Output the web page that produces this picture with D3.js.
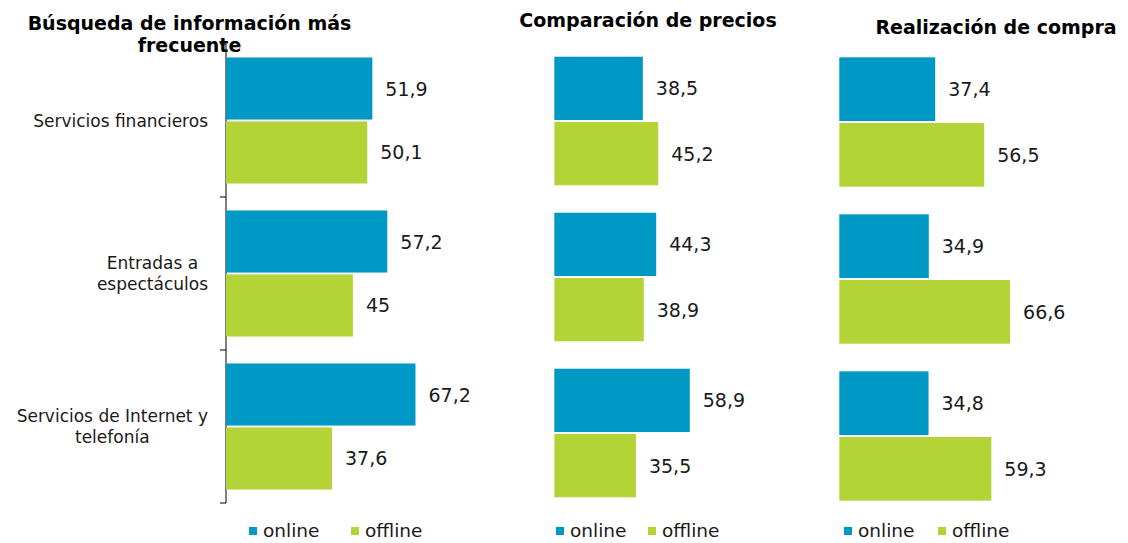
<!DOCTYPE html>
<html>
<head>
<meta charset="utf-8">
<script src="https://cdn.jsdelivr.net/npm/d3@7"></script>
<style>
  body { margin: 0; background: #fff; }
  svg { display: block; font-family: "DejaVu Sans", Verdana, sans-serif; }
</style>
</head>
<body>
<svg id="chart" width="1128" height="543"></svg>
<script>
// Data
const categories = ["Servicios financieros", "Entradas a espectáculos", "Servicios de Internet y telefonía"];
const categoryLines = [["Servicios financieros"], ["Entradas a", "espectáculos"], ["Servicios de Internet y", "telefonía"]];
const series = ["online", "offline"];
const panelTitles = [["Búsqueda de información más", "frecuente"], ["Comparación de precios"], ["Realización de compra"]];

const busquedaOnline = [51.9, 57.2, 67.2];
const busquedaOffline = [50.1, 45, 37.6];
const comparacionOnline = [38.5, 44.3, 58.9];
const comparacionOffline = [45.2, 38.9, 35.5];
const compraOnline = [37.4, 34.9, 34.8];
const compraOffline = [56.5, 66.6, 59.3];

const colors = { online: "#0098c5", offline: "#b4d337" };

// layout of each small panel (pixels only, no values)
const panels = [
  { online: busquedaOnline, offline: busquedaOffline, x: [226, 451.6], max: 80, y: [44, 503],
    titleX: 189.5, titleY: [30, 52], legendX: 249, legendGap: 102, axis: true },
  { online: comparacionOnline, offline: comparacionOffline, x: [554.3, 715.3], max: 70, y: [43, 511],
    titleX: 648, titleY: [27], legendX: 556, legendGap: 92, axis: false },
  { online: compraOnline, offline: compraOffline, x: [839.3, 1018.8], max: 70, y: [43.5, 514.5],
    titleX: 996, titleY: [34], legendX: 844, legendGap: 94, axis: false }
];

const svg = d3.select("#chart");
const fmt = v => String(v).replace(".", ",");

panels.forEach((p, pi) => {
  const g = svg.append("g");

  const x = d3.scaleLinear().domain([0, p.max]).range(p.x);
  const y = d3.scaleBand()
    .domain(categories)
    .range(p.y)
    .paddingInner(0.176)
    .paddingOuter(0.088);
  const ySub = d3.scaleBand()
    .domain(series)
    .range([0, y.bandwidth()])
    .paddingInner(0.03);

  const rows = [];
  categories.forEach((c, i) => {
    series.forEach(s => rows.push({ cat: c, series: s, value: p[s][i] }));
  });

  // axis (only first panel shows it)
  if (p.axis) {
    const ticks = [p.y[0]].concat(categories.map(c => y(c) + y.bandwidth() + y.step() * 0.088));
    g.append("line")
      .attr("x1", p.x[0]).attr("x2", p.x[0])
      .attr("y1", p.y[0]).attr("y2", p.y[1])
      .attr("stroke", "#000").attr("stroke-width", 1);
    g.selectAll(".tick")
      .data(ticks)
      .join("line")
      .attr("class", "tick")
      .attr("x1", p.x[0] - 6).attr("x2", p.x[0])
      .attr("y1", d => d).attr("y2", d => d)
      .attr("stroke", "#000");

    // category labels: widest line right-aligned at axis, lines centred on it
    categoryLines.forEach((lines, i) => {
      const lh = 21;
      const cy = y(categories[i]) + y.bandwidth() / 2;
      const t = g.append("text")
        .attr("font-size", 17)
        .attr("fill", "#1a1a1a")
        .attr("text-anchor", "middle");
      lines.forEach((l, j) => {
        t.append("tspan")
          .attr("y", cy + 6 + (j - (lines.length - 1) / 2) * lh)
          .text(l);
      });
      const maxW = d3.max(t.selectAll("tspan").nodes(), n => n.getComputedTextLength());
      t.selectAll("tspan").attr("x", p.x[0] - 18 - maxW / 2);
    });
  }

  // bars
  g.selectAll("rect.bar")
    .data(rows)
    .join("rect")
    .attr("class", "bar")
    .attr("x", x(0))
    .attr("y", d => y(d.cat) + ySub(d.series))
    .attr("width", d => x(d.value) - x(0))
    .attr("height", ySub.bandwidth())
    .attr("fill", d => colors[d.series]);

  // value labels
  g.selectAll("text.val")
    .data(rows)
    .join("text")
    .attr("class", "val")
    .attr("x", d => x(d.value) + 13)
    .attr("y", d => y(d.cat) + ySub(d.series) + ySub.bandwidth() / 2 + 7)
    .attr("font-size", 19)
    .attr("fill", "#1a1a1a")
    .text(d => fmt(d.value));

  // title
  const title = svg.append("text")
    .attr("font-size", 19)
    .attr("font-weight", "bold")
    .attr("fill", "#000")
    .attr("text-anchor", "middle");
  panelTitles[pi].forEach((t, j) => {
    title.append("tspan").attr("x", p.titleX).attr("y", p.titleY[j]).text(t);
  });

  // legend
  const leg = g.selectAll("g.leg")
    .data(series)
    .join("g")
    .attr("class", "leg")
    .attr("transform", (d, i) => `translate(${p.legendX + i * p.legendGap},527)`);
  leg.append("rect")
    .attr("width", 8).attr("height", 8)
    .attr("fill", d => colors[d]);
  leg.append("text")
    .attr("x", 14).attr("y", 10)
    .attr("font-size", 18.5)
    .attr("fill", "#1a1a1a")
    .text(d => d);
});
</script>
</body>
</html>
